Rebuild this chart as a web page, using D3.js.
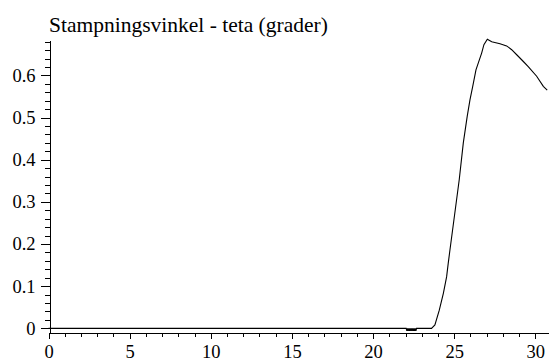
<!DOCTYPE html>
<html>
<head>
<meta charset="utf-8">
<script src="https://cdn.jsdelivr.net/npm/d3@7"></script>
<style>
  html, body { margin: 0; padding: 0; background: #fff; }
  svg { display: block; }
</style>
</head>
<body>
<svg id="chart" width="549" height="362"></svg>
<script>
// Stamping angle (theta, degrees) over time
const timeValues = [0, 22.04, 22.08, 22.12, 22.16, 22.20, 22.24, 22.28, 22.32, 22.36, 22.40,
  22.44, 22.48, 22.52, 22.56, 22.60, 22.64, 22.68, 22.72,
  23.6, 23.81, 24.08, 24.33, 24.53, 24.63, 24.74, 25.31, 25.56, 25.80, 25.97, 26.14,
  26.34, 26.48, 26.69, 26.83, 27.04, 27.31, 27.82, 28.23, 28.54, 28.85, 29.26, 29.56,
  30.08, 30.49, 30.73];
const thetaValues = [0, 0, -0.006, 0, -0.006, 0, -0.006, 0, -0.006, 0, -0.006,
  0, -0.006, 0, -0.006, 0, -0.006, 0, 0,
  0, 0.008, 0.043, 0.083, 0.122, 0.154, 0.187, 0.353, 0.44, 0.503, 0.542, 0.574,
  0.613, 0.629, 0.653, 0.673, 0.686, 0.680, 0.675, 0.670, 0.661, 0.649, 0.633, 0.621,
  0.598, 0.574, 0.565];
const xMajorTicks = [0, 5, 10, 15, 20, 25, 30];
const yMajorTicks = [0, 0.1, 0.2, 0.3, 0.4, 0.5, 0.6];
const titleText = "Stampningsvinkel - teta (grader)";

const serifFace = "'Liberation Serif'";

// apply the serif face to a text selection
function serifText(sel, size) {
  sel.attr("font-family", serifFace)
    .attr("font-size", size)
    .attr("fill", "#000")
    .style("font-family", serifFace, "important")
    .style("font-size", size + "px", "important");
}

const svg = d3.select("#chart");

const x = d3.scaleLinear().domain([0, 30.84]).range([48.5, 549]);
const y = d3.scaleLinear().domain([-0.0087, 0.684]).range([332, 40]);

const xMinor = d3.range(0, 31, 1).filter(v => v % 5 !== 0);
const yMinor = d3.range(0, 0.69, 0.02).filter(v => Math.abs(v * 10 - Math.round(v * 10)) > 1e-6);

// data line
const line = d3.line().x((d, i) => x(timeValues[i])).y(d => y(d));
svg.append("path")
  .attr("d", line(thetaValues))
  .attr("fill", "none")
  .attr("stroke", "#000")
  .attr("stroke-width", 1.1);

// x axis (at bottom of the plotted range)
const xAxisY = y.range()[0] + 0.5;
svg.append("g")
  .attr("transform", `translate(0,${xAxisY})`)
  .call(d3.axisBottom(x).tickValues(xMinor).tickSize(4).tickSizeOuter(0).tickFormat(""))
  .call(g => g.select(".domain").remove());
const gx = svg.append("g")
  .attr("transform", `translate(0,${xAxisY})`)
  .call(d3.axisBottom(x).tickValues(xMajorTicks).tickSize(6.5).tickSizeOuter(0).tickPadding(6).tickFormat(d3.format("d")))
  .attr("font-family", serifFace);
gx.selectAll("text").attr("dy", "0.71em").call(serifText, 18.5);

// y axis
const yAxisX = 49.5;
svg.append("g")
  .attr("transform", `translate(${yAxisX},0)`)
  .call(d3.axisLeft(y).tickValues(yMinor).tickSize(4.5).tickSizeOuter(0).tickFormat(""))
  .call(g => g.select(".domain").remove());
const gy = svg.append("g")
  .attr("transform", `translate(${yAxisX},0)`)
  .call(d3.axisLeft(y).tickValues(yMajorTicks).tickSize(9).tickSizeOuter(0).tickPadding(5).tickFormat(d3.format("~g")))
  .attr("font-family", serifFace);
gy.selectAll("text").call(serifText, 18.5);

svg.selectAll(".domain, .tick line").attr("stroke", "#000").attr("shape-rendering", "crispEdges");

// title
svg.append("text")
  .attr("x", 49)
  .attr("y", 32)
  .text(titleText)
  .call(serifText, 21.5);
</script>
</body>
</html>
